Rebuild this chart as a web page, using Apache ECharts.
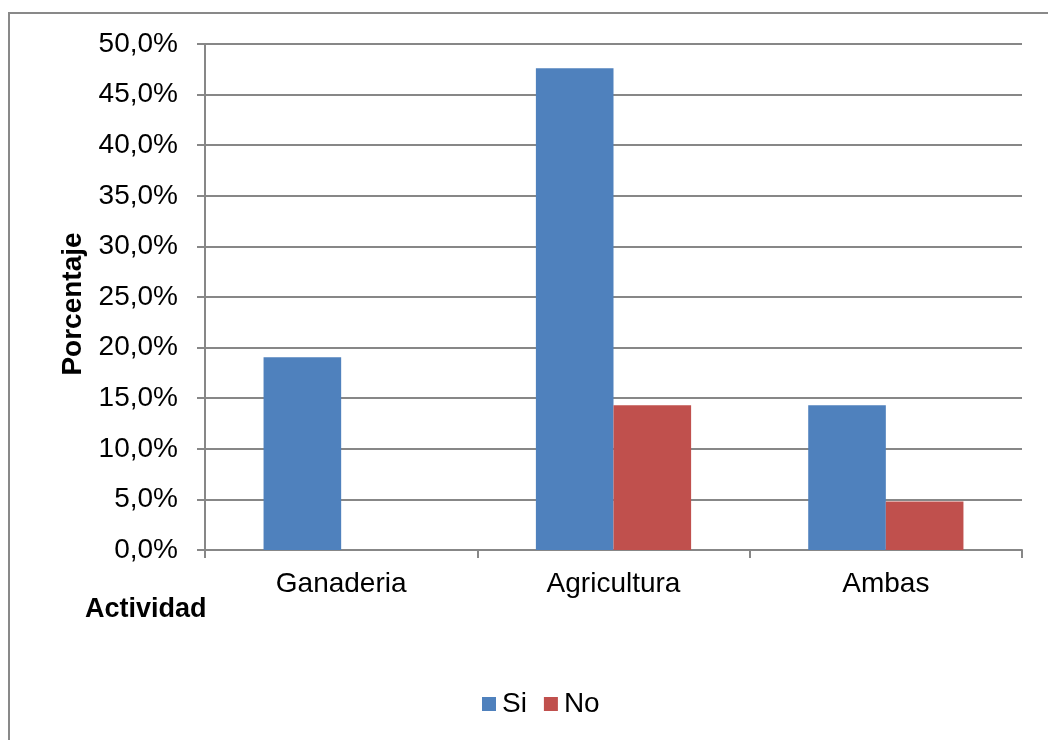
<!DOCTYPE html>
<html>
<head>
<meta charset="utf-8">
<script src="https://cdn.jsdelivr.net/npm/echarts@6/dist/echarts.min.js"></script>
<style>
html,body{margin:0;padding:0;background:#fff;}
#chart{width:1048px;height:740px;}
</style>
</head>
<body>
<div id="chart"></div>
<script>
const categories = ['Ganaderia', 'Agricultura', 'Ambas'];
const seriesNames = ['Si', 'No'];
const siValues = [19.05, 47.6, 14.3];
const noValues = [0, 14.3, 4.8];
const yTickMax = 50;
const yTickStep = 5;

const FONT = '"Liberation Sans", Arial, Helvetica, sans-serif';
const chart = echarts.init(document.getElementById('chart'), null, {renderer: 'canvas'});
const gridColor = '#878787';

chart.setOption({
  animation: false,
  backgroundColor: '#fff',
  textStyle: {fontFamily: FONT},
  graphic: [
    {type: 'rect', shape: {x: 9, y: 13, width: 1100, height: 800}, style: {fill: 'none', stroke: '#898989', lineWidth: 2}, silent: true, z: -1},
    {type: 'text', left: 85, top: 596, style: {text: 'Actividad', font: 'bold 27px ' + FONT, fill: '#000'}}
  ],
  grid: {left: 205, right: 26, top: 44, bottom: 190, containLabel: false},
  legend: {
    data: seriesNames,
    left: 477,
    top: 685,
    itemWidth: 14,
    itemHeight: 14,
    itemGap: 17,
    icon: 'rect',
    textStyle: {fontSize: 28, color: '#000', fontFamily: FONT, padding: [0, 0, 0, 1]}
  },
  xAxis: {
    type: 'category',
    data: categories,
    axisLine: {lineStyle: {color: gridColor, width: 2}},
    axisTick: {show: true, length: 8, lineStyle: {color: gridColor, width: 2}},
    axisLabel: {fontSize: 28, color: '#000', margin: 20, fontFamily: FONT},
    splitLine: {show: false}
  },
  yAxis: {
    type: 'value',
    min: 0,
    max: yTickMax,
    interval: yTickStep,
    name: 'Porcentaje',
    nameLocation: 'middle',
    nameRotate: 90,
    nameGap: 116,
    nameTextStyle: {fontSize: 28, fontWeight: 'bold', color: '#000', fontFamily: FONT, padding: [0, 14, 0, 0]},
    axisLine: {show: true, lineStyle: {color: gridColor, width: 2}},
    axisTick: {show: true, length: 8, lineStyle: {color: gridColor, width: 2}},
    axisLabel: {
      fontSize: 28, color: '#000', margin: 27, fontFamily: FONT, padding: [5, 0, 0, 0],
      formatter: v => v.toFixed(1).replace('.', ',') + '%'
    },
    splitLine: {show: true, lineStyle: {color: gridColor, width: 2}}
  },
  series: [
    {name: seriesNames[0], type: 'bar', data: siValues, barGap: '0%', barCategoryGap: '43%', itemStyle: {color: '#4F81BD'}},
    {name: seriesNames[1], type: 'bar', data: noValues, barGap: '0%', barCategoryGap: '43%', itemStyle: {color: '#C0504D'}}
  ]
});
</script>
</body>
</html>
